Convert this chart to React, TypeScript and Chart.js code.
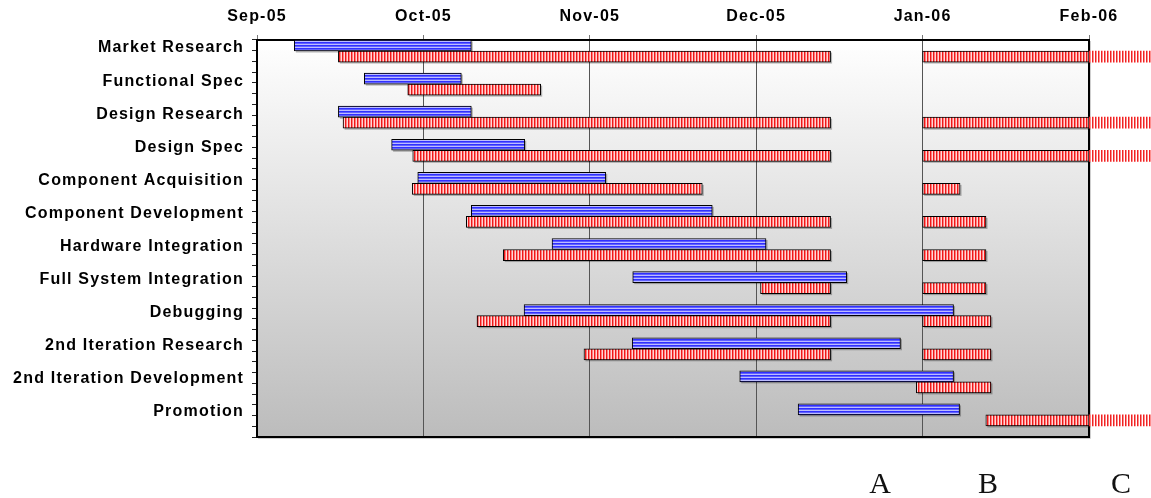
import React, { useEffect, useRef } from "react";
import { Chart, registerables } from "chart.js";

Chart.register(...registerables);

// ---- data ----
const tasks = [
  "Market Research",
  "Functional Spec",
  "Design Research",
  "Design Spec",
  "Component Acquisition",
  "Component Development",
  "Hardware Integration",
  "Full System Integration",
  "Debugging",
  "2nd Iteration Research",
  "2nd Iteration Development",
  "Promotion",
];

// months since Sep-05 (0 = Sep-05, 5 = Feb-06)
const monthLabels = ["Sep-05", "Oct-05", "Nov-05", "Dec-05", "Jan-06", "Feb-06"];
const axisMax = 5;

const plannedStart = [0.224, 0.645, 0.489, 0.809, 0.966, 1.288, 1.773, 2.258, 1.605, 2.255, 2.901, 3.252];
const plannedEnd = [1.288, 1.228, 1.288, 1.609, 2.096, 2.736, 3.059, 3.544, 4.186, 3.867, 4.186, 4.222];

const actualStart = [0.489, 0.906, 0.517, 0.936, 0.933, 1.258, 1.48, 3.026, 1.322, 1.965, 3.962, 4.38];
const actualEnd = [3.447, 1.705, 3.447, 3.447, 2.676, 3.447, 3.447, 3.447, 3.447, 3.447, 4.411, 5.5];

const actual2Start = [4.0, null, 4.0, 4.0, 4.0, 4.0, 4.0, 4.0, 4.0, 4.0, null, null];
const actual2End = [5.5, null, 5.5, 5.5, 4.225, 4.381, 4.381, 4.381, 4.411, 4.411, null, null];

const footLetters = ["A", "B", "C"];
const footCenters = [880, 988, 1121];

// ---- helpers ----
function stripePattern(colors: string[], vertical: boolean): CanvasPattern | string {
  const n = colors.length;
  const c = document.createElement("canvas");
  c.width = n;
  c.height = n;
  const g = c.getContext("2d")!;
  colors.forEach((col, i) => {
    g.fillStyle = col;
    if (vertical) g.fillRect(i, 0, 1, n);
    else g.fillRect(0, i, n, 1);
  });
  const p = g.createPattern(c, "repeat");
  return p || colors[0];
}

type Seg = [number, number] | null;
function seg(s: number | null, e: number | null): Seg {
  return s == null || e == null ? null : [s, e];
}
function inside(sg: Seg): Seg {
  return sg ? [sg[0], Math.min(sg[1], axisMax)] : null;
}

const decor = {
  id: "decor",
  beforeDraw(chart: any) {
    const { ctx, chartArea: a } = chart;
    ctx.save();
    const g = ctx.createLinearGradient(0, a.top, 0, a.bottom);
    g.addColorStop(0, "#ffffff");
    g.addColorStop(1, "#bcbcbc");
    ctx.fillStyle = g;
    ctx.fillRect(a.left, a.top, a.right - a.left, a.bottom - a.top);
    ctx.restore();
    ctx.letterSpacing = "1.2px";
  },
  beforeDatasetsDraw(chart: any) {
    const { ctx, chartArea: a } = chart;
    ctx.save();
    ctx.letterSpacing = "0px";
    ctx.strokeStyle = "#cfcfcf";
    ctx.lineWidth = 1;
    ctx.beginPath();
    ctx.moveTo(a.left + 1, a.bottom + 1.5);
    ctx.lineTo(a.right + 1.5, a.bottom + 1.5);
    ctx.lineTo(a.right + 1.5, a.top + 1);
    ctx.stroke();
    ctx.strokeStyle = "#000";
    ctx.lineWidth = 2;
    ctx.strokeRect(a.left, a.top, a.right - a.left, a.bottom - a.top);
    // soft drop shadows behind bordered bars
    ctx.fillStyle = "rgba(0,0,0,0.28)";
    chart.data.datasets.forEach((ds: any, di: number) => {
      if (!ds.borderWidth) return;
      const meta = chart.getDatasetMeta(di);
      meta.data.forEach((el: any, i: number) => {
        if (ds.data[i] == null) return;
        const { x, y, base, height } = el.getProps(["x", "y", "base", "height"], true);
        const l = Math.min(x, base);
        const w = Math.abs(x - base);
        ctx.fillRect(l + 1.5, y - height / 2 + 1.5, w, height);
      });
    });
    ctx.restore();
  },
  afterDraw(chart: any) {
    chart.ctx.letterSpacing = "0px";
  },
};

export default function App() {
  const ref = useRef<HTMLCanvasElement>(null);

  useEffect(() => {
    const blue = stripePattern(["#3030ff", "#6060ff", "#bcbcff"], false);
    const red = stripePattern(["#ee1818", "#ff7e7e", "#ffd6d6"], true);
    const redOver = stripePattern(["#ee2424", "#ff8c8c", "#ffffff"], true);

    const planned = tasks.map((_, i) => seg(plannedStart[i], plannedEnd[i]));
    const actual1 = tasks.map((_, i) => seg(actualStart[i], actualEnd[i]));
    const actual2 = tasks.map((_, i) => seg(actual2Start[i], actual2End[i]));
    const overflow = tasks.map((_, i) => {
      const s = [actual1[i], actual2[i]].find((x) => x && x[1] > axisMax);
      return s ? [axisMax, s[1]] : null;
    });

    const tickFont = { family: "'Liberation Sans', Arial, sans-serif", size: 16, weight: "bold" as const };

    const chart = new Chart(ref.current!, {
      type: "bar",
      data: {
        labels: tasks,
        datasets: [
          {
            label: "Planned",
            data: planned as any,
            backgroundColor: blue as any,
            borderColor: "#000",
            borderWidth: 1,
            borderSkipped: false,
            stack: "plan",
          },
          {
            label: "Actual",
            data: actual1.map(inside) as any,
            backgroundColor: red as any,
            borderColor: "#000",
            borderWidth: 1,
            borderSkipped: false,
            stack: "actual",
          },
          {
            label: "Actual (resumed)",
            data: actual2.map(inside) as any,
            backgroundColor: red as any,
            borderColor: "#000",
            borderWidth: 1,
            borderSkipped: false,
            stack: "actual",
          },
          {
            label: "Actual (beyond axis)",
            data: overflow as any,
            backgroundColor: redOver as any,
            borderWidth: 0,
            stack: "actual",
            clip: false as any,
          },
          {
            label: "spacer",
            data: tasks.map(() => null) as any,
            stack: "spacer",
          },
        ],
      },
      options: {
        indexAxis: "y",
        animation: false,
        responsive: false,
        maintainAspectRatio: false,
        layout: { padding: { left: 0, top: 0, right: 62, bottom: 61 } },
        datasets: { bar: { categoryPercentage: 1, barPercentage: 1 } },
        plugins: { legend: { display: false }, tooltip: { enabled: false }, title: { display: false } },
        scales: {
          x: {
            type: "linear",
            position: "top",
            min: 0,
            max: axisMax,
            stacked: false,
            ticks: {
              stepSize: 1,
              autoSkip: false,
              maxRotation: 0,
              padding: 9,
              color: "#000",
              font: tickFont,
              callback: (v: any) => monthLabels[v] ?? "",
            },
            grid: { color: "#555", lineWidth: 1, tickLength: 5, tickColor: "#777" },
            border: { display: false },
            afterFit: (s: any) => {
              s.height = 40;
            },
          },
          y: {
            type: "category",
            position: "left",
            weight: 1,
            offset: true,
            grid: { display: false, drawTicks: false },
            border: { display: false },
            ticks: {
              autoSkip: false,
              padding: 8,
              labelOffset: -8.5,
              color: "#000",
              font: tickFont,
            },
            afterFit: (s: any) => {
              s.width = 252;
            },
          },
          yTicks: {
            type: "linear",
            position: "left",
            weight: 0,
            min: 0,
            max: tasks.length * 3,
            ticks: { display: false, stepSize: 1 },
            grid: { drawOnChartArea: false, drawTicks: true, tickLength: 5, color: "#222", tickColor: "#222" },
            border: { display: false },
            afterFit: (s: any) => {
              s.width = 5;
            },
          },
        },
      } as any,
      plugins: [decor],
    });
    return () => chart.destroy();
  }, []);

  return (
    <div style={{ position: "absolute", left: 0, top: 0, width: 1151, height: 498, background: "#fff" }}>
      <canvas ref={ref} width={1151} height={498} style={{ display: "block" }} />
      {footLetters.map((t, i) => (
        <div
          key={t}
          style={{
            position: "absolute",
            left: footCenters[i] - 25,
            top: 468,
            width: 50,
            textAlign: "center",
            fontFamily: "'Liberation Serif', 'Times New Roman', serif",
            fontSize: 30,
            lineHeight: "30px",
            color: "#111",
          }}
        >
          {t}
        </div>
      ))}
    </div>
  );
}
